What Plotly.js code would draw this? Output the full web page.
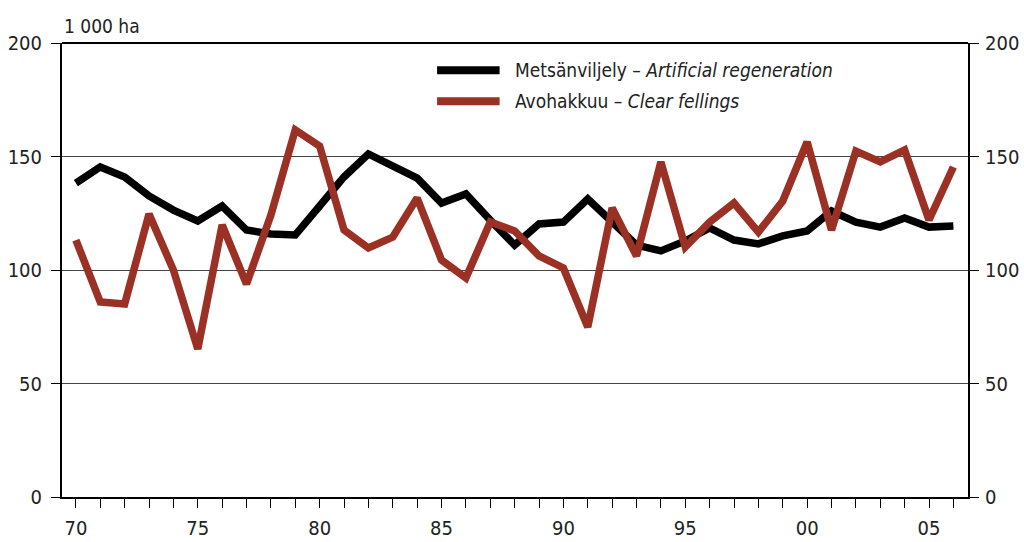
<!DOCTYPE html>
<html>
<head>
<meta charset="utf-8">
<script src="https://cdn.plot.ly/plotly-3.0.1.min.js"></script>
<style>
html,body{margin:0;padding:0;background:#fff;}
#chart{width:1024px;height:542px;}
</style>
</head>
<body>
<div id="chart"></div>
<script>
const years = [1970,1971,1972,1973,1974,1975,1976,1977,1978,1979,1980,1981,1982,1983,1984,1985,1986,1987,1988,1989,1990,1991,1992,1993,1994,1995,1996,1997,1998,1999,2000,2001,2002,2003,2004,2005,2006];
const artificialRegeneration = [138.3,145.4,141,132.6,126.4,121.6,128.2,117.6,115.9,115.4,128.2,141,151.1,145.4,140.5,129.5,133.5,122,111,120.3,121.1,131.3,121,111,108.4,112.8,118.5,113.2,111.5,115,117.2,126,121.1,118.9,122.9,118.9,119.4];
const clearFellings = [113.2,85.9,85,124.7,100,65.2,119.8,93.8,124.2,161.7,154.6,117.6,109.7,114.5,131.7,104.4,96.5,121.1,117.2,106.2,100.9,74.9,127.3,106.2,147.6,110.1,121.1,129.5,116.7,130.4,156.4,117.6,152.4,147.6,152.9,122,145.4];
const xTickVals = [1970,1975,1980,1985,1990,1995,2000,2005];
const xTickText = ["70","75","80","85","90","95","00","05"];
const yTickVals = [0,50,100,150,200];
const seriesNames = ["Metsänviljely – <i>Artificial regeneration</i>", "Avohakkuu – <i>Clear fellings</i>"];
const unitLabel = "1 000 ha";

const FONT = "'Liberation Sans Narrow', 'Arial Narrow', 'DejaVu Sans Condensed', 'Liberation Sans', sans-serif";
const RED = "#9b3024";

const traces = [
  {x: years, y: artificialRegeneration, type: "scatter", mode: "lines", name: seriesNames[0],
   line: {color: "#000000", width: 7.5, shape: "linear"}, showlegend: false},
  {x: years, y: clearFellings, type: "scatter", mode: "lines", name: seriesNames[1],
   line: {color: RED, width: 7.5}, showlegend: false},
  {x: [years[0]], y: [null], yaxis: "y2", showlegend: false, hoverinfo: "skip"}
];

const yAxisCommon = {
  range: [0, 200], tickvals: yTickVals, ticks: "outside", ticklen: 9, tickwidth: 1, tickcolor: "#000",
  showline: true, linecolor: "#000", linewidth: 2, zeroline: false, fixedrange: true,
  tickfont: {family: FONT, size: 20, color: "#222"}
};

const layout = {
  width: 1024, height: 542,
  margin: {l: 62, r: 56, t: 43, b: 45},
  paper_bgcolor: "#fff", plot_bgcolor: "#fff",
  font: {family: FONT, color: "#222"},
  xaxis: {
    range: [1969.43, 2006.6], tickvals: xTickVals, ticktext: xTickText,
    ticks: "outside", ticklen: 9, tickwidth: 1, tickcolor: "#000",
    minor: {dtick: 1, tick0: 1970, ticks: "outside", ticklen: 9, tickwidth: 1, tickcolor: "#000", showgrid: false},
    showline: true, linecolor: "#000", linewidth: 2, showgrid: false, zeroline: false,
    tickfont: {family: FONT, size: 20, color: "#222"}, ticklabelstandoff: 3
  },
  yaxis: Object.assign({}, yAxisCommon, {
    showgrid: true, gridcolor: "#444", gridwidth: 1, mirror: false, ticklabelstandoff: 5
  }),
  yaxis2: Object.assign({}, yAxisCommon, {
    overlaying: "y", side: "right", showgrid: false, ticklabelstandoff: 2
  }),
  shapes: [
    {type: "line", xref: "paper", yref: "paper", x0: 0, x1: 1, y0: 1, y1: 1, line: {color: "#000", width: 2}},
    {type: "line", xref: "paper", yref: "paper", x0: 0.414, x1: 0.483, y0: 0.94, y1: 0.94, line: {color: "#000", width: 8}},
    {type: "line", xref: "paper", yref: "paper", x0: 0.414, x1: 0.483, y0: 0.8715, y1: 0.8715, line: {color: RED, width: 8}}
  ],
  annotations: [
    {text: unitLabel, xref: "paper", yref: "paper", x: 0, y: 1, xanchor: "left", yanchor: "bottom", yshift: 4,
     showarrow: false, font: {family: FONT, size: 19, color: "#222"}},
    {text: seriesNames[0], xref: "paper", yref: "paper", x: 0.498, y: 0.94, xanchor: "left", yanchor: "middle",
     showarrow: false, font: {family: FONT, size: 19, color: "#222"}},
    {text: seriesNames[1], xref: "paper", yref: "paper", x: 0.498, y: 0.8715, xanchor: "left", yanchor: "middle",
     showarrow: false, font: {family: FONT, size: 19, color: "#222"}}
  ],
  showlegend: false
};

Plotly.newPlot("chart", traces, layout, {displayModeBar: false, staticPlot: true});
</script>
</body>
</html>
